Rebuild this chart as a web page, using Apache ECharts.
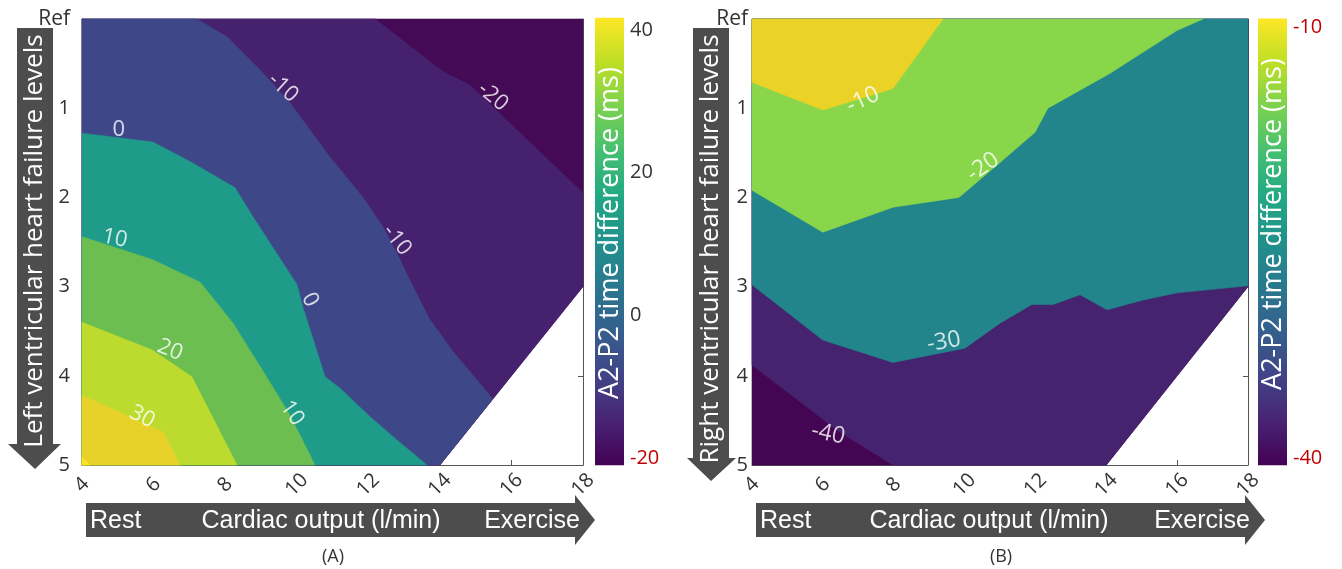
<!DOCTYPE html>
<html>
<head>
<meta charset="utf-8">
<script src="https://cdn.jsdelivr.net/npm/echarts@6.0.0/dist/echarts.min.js"></script>
<style>
html, body { margin: 0; padding: 0; background: #fff; }
#chart { width: 1342px; height: 569px; }
</style>
</head>
<body>
<div id="chart"></div>
<script>
// axes
var cardiacOutput = [4, 6, 8, 10, 12, 14, 16, 18];
var failureLevels = ['Ref', '1', '2', '3', '4', '5'];
// simulated region, the lower right corner has no values
var domain = [[4, 0], [18, 0], [18, 3], [14, 5], [4, 5]];

// (A) left ventricular failure, contour lines as [cardiac output, level]
var lvLevels = [-20, -10, 0, 10, 20, 30, 40];
var lvLineM20 = [[12.19, 0], [14.09, 0.59], [14.84, 0.74], [18, 1.95]];
var lvLineM10 = [[7.21, 0], [8.05, 0.20], [8.97, 0.57], [9.81, 0.94], [10.93, 1.55], [11.85, 2.00], [12.41, 2.33],
  [12.89, 2.70], [13.16, 2.93], [13.72, 3.37], [14.37, 3.73], [15.48, 4.26]];
var lvLine0 = [[4, 1.28], [5.98, 1.38], [7.07, 1.61], [8.27, 1.89], [8.78, 2.22], [10.01, 2.98], [10.17, 3.23],
  [10.79, 4.01], [11.21, 4.14], [12.05, 4.46], [12.80, 4.72], [13.64, 5]];
var lvLine10 = [[4, 2.44], [5.98, 2.70], [7.30, 2.95], [8.22, 3.41], [9.03, 3.93], [9.81, 4.44], [10.51, 5]];
var lvLine20 = [[4, 3.40], [5.96, 3.71], [7.07, 4.01], [8.33, 5]];
var lvLine30 = [[4, 4.22], [6.26, 4.63], [6.74, 5]];
var lvLine40 = [[4, 4.91], [4.22, 5]];
// clabel positions [x, level, value]
var lvLabels = [[9.62, 0.77, -10], [5.03, 1.24, 0], [4.92, 2.46, 10], [15.48, 0.87, -20], [12.80, 2.48, -10],
  [10.37, 3.15, 0], [6.46, 3.71, 20], [5.68, 4.46, 30], [9.87, 4.42, 10]];
var lvColorRange = [-21, 41.7];
var lvColorTicks = [-20, 40];

// (B) right ventricular failure
var rvLevels = [-40, -30, -20, -10];
var rvLineM40 = [[7.98, 5], [6.40, 4.61], [5.55, 4.35], [4, 3.88]];
var rvLineM30 = [[18, 2.99], [16.0, 3.07], [15.04, 3.15], [14.02, 3.26], [13.26, 3.09], [12.50, 3.20], [11.90, 3.20],
  [11.0, 3.41], [10.01, 3.69], [7.98, 3.85], [6.0, 3.60], [4, 2.98]];
var rvLineM20 = [[16.73, 0], [15.99, 0.13], [14.10, 0.61], [12.35, 1.0], [11.99, 1.27], [11.0, 1.61], [9.84, 2.0],
  [7.98, 2.11], [6.0, 2.39], [4, 1.92]];
var rvLineM10 = [[9.39, 0], [7.98, 0.78], [6.0, 1.02], [4, 0.71]];
var rvLabels = [[7.13, 0.91, -10], [10.52, 1.66, -20], [9.42, 3.62, -30], [6.15, 4.65, -40]];
var rvColorRange = [-40.5, -9.4];
var rvColorTicks = [-40, -10];

// styles
var viridis = ['#440154', '#482475', '#414487', '#355f8d', '#2a788e', '#21918c', '#22a884', '#44bf70', '#7ad151', '#bddf26', '#fde725'];
var lvBandColors = ['#440a56', '#46216e', '#3e4888', '#1f9b8a', '#6cbe50', '#bddb2e', '#e8d22a', '#f8e621'];
var rvBandColors = ['#440552', '#46236e', '#22858c', '#8ad64a', '#ebd227'];
var lvLabelRot = [-42, 0, -12, -40, -52, -62, -22, -28, -55];
var rvLabelRot = [25, 35, 10, -12];
var FONT = 'Open Sans';

// position of a boundary point along the domain outline
function edgePos(p) {
  var best = 1e9, pos = 0;
  for (var i = 0; i < domain.length; i++) {
    var a = domain[i], b = domain[(i + 1) % domain.length];
    var dx = b[0] - a[0], dy = b[1] - a[1];
    var f = ((p[0] - a[0]) * dx + (p[1] - a[1]) * dy) / (dx * dx + dy * dy);
    f = Math.max(0, Math.min(1, f));
    var d = Math.hypot(a[0] + f * dx - p[0], a[1] + f * dy - p[1]);
    if (d < best) { best = d; pos = i + f; }
  }
  return pos;
}
// area above a contour level: the line closed along the domain outline
function regionAbove(line) {
  var n = domain.length;
  var t0 = edgePos(line[line.length - 1]), t1 = edgePos(line[0]);
  if (t1 <= t0) t1 += n;
  var pts = line.slice();
  for (var k = Math.floor(t0) + 1; k < t1; k++) pts.push(domain[k % n]);
  return pts;
}
function rings(lines) { return [domain].concat(lines.map(regionAbove)); }

var lvRings = rings([lvLineM20, lvLineM10, lvLine0, lvLine10, lvLine20, lvLine30, lvLine40]);
var rvRings = rings([rvLineM40, rvLineM30, rvLineM20, rvLineM10]);

function bandSeries(ax, polys, colors) {
  return {
    type: 'custom', xAxisIndex: ax, yAxisIndex: ax, silent: true, animation: false, z: 2,
    data: polys.map(function (p, i) { return [i, 0]; }),
    renderItem: function (params, api) {
      var i = api.value(0);
      return {
        type: 'polygon', z2: i,
        shape: { points: polys[i].map(function (q) { return api.coord(q); }) },
        style: { fill: colors[i], stroke: colors[i], lineWidth: 0.6 }
      };
    }
  };
}

function labelSeries(ax, labels, rot, size) {
  return {
    type: 'scatter', xAxisIndex: ax, yAxisIndex: ax, silent: true, animation: false, z: 5,
    symbolSize: 1, itemStyle: { color: 'rgba(0,0,0,0)' },
    data: labels.map(function (l, i) {
      return { value: [l[0], l[1]], name: String(l[2]), label: { rotate: rot[i] } };
    }),
    label: { show: true, position: 'inside', formatter: '{b}', color: '#fff', fontSize: size, fontFamily: FONT }
  };
}

function colorbarSeries(ax, range) {
  return {
    type: 'custom', xAxisIndex: ax, yAxisIndex: ax, silent: true, animation: false, clip: false,
    data: [[0, range[0]]],
    renderItem: function (params, api) {
      var a = api.coord([0, range[0]]), b = api.coord([1, range[1]]);
      return {
        type: 'rect',
        shape: { x: a[0], y: b[1], width: b[0] - a[0], height: a[1] - b[1] },
        style: {
          fill: {
            type: 'linear', x: 0, y: 1, x2: 0, y2: 0,
            colorStops: viridis.map(function (c, i) { return { offset: i / (viridis.length - 1), color: c }; })
          }
        }
      };
    }
  };
}

var lineStyle = { color: '#555', width: 1 };
function plotX(grid, pos) {
  return {
    gridIndex: grid, type: 'value', position: pos, min: cardiacOutput[0], max: cardiacOutput[cardiacOutput.length - 1], interval: 2,
    axisLine: { show: true, onZero: false, lineStyle: lineStyle },
    axisTick: { show: true, inside: true, length: 5, lineStyle: lineStyle },
    splitLine: { show: false },
    axisLabel: pos === 'bottom'
      ? { show: true, rotate: 45, align: 'center', verticalAlign: 'middle', margin: 20, fontSize: 20, color: '#333', fontFamily: FONT, showMinLabel: true, showMaxLabel: true }
      : { show: false }
  };
}
function plotY(grid, pos, margin) {
  return {
    gridIndex: grid, type: 'value', position: pos, inverse: true, min: 0, max: failureLevels.length - 1, interval: 1,
    axisLine: { show: true, onZero: false, lineStyle: lineStyle },
    axisTick: { show: true, inside: true, length: 5, lineStyle: lineStyle },
    splitLine: { show: false },
    axisLabel: pos === 'left'
      ? { show: true, margin: margin, fontSize: 20, color: '#333', fontFamily: FONT,
          formatter: function (v) { return v === 0 ? '{s|Ref}' : failureLevels[v]; },
          rich: { s: { fontSize: 21, color: '#333', fontFamily: FONT } } }
      : { show: false }
  };
}
function barX(grid) { return { gridIndex: grid, type: 'value', min: 0, max: 1, show: false }; }
function barY(grid, ticks) {
  return {
    gridIndex: grid, type: 'value', position: 'right', min: ticks[0], max: ticks[1],
    interval: ticks === lvColorTicks ? 20 : 30,
    axisLine: { show: false }, axisTick: { show: false }, splitLine: { show: false },
    axisLabel: {
      show: true, margin: 6, fontSize: 20, color: '#333', fontFamily: FONT,
      formatter: function (v) { return v === ticks[0] || (ticks === rvColorTicks && v === ticks[1]) ? '{r|' + v + '}' : String(v); },
      rich: { r: { color: '#c00000', fontSize: 20, fontFamily: FONT } }
    }
  };
}

var ARROW = '#4d4d4d';
function vArrow(x0, x1, top, base, hx0, hx1, tipY, text, ty) {
  var cx = (x0 + x1) / 2;
  return [
    { type: 'polygon', shape: { points: [[x0, top], [x1, top], [x1, base], [hx1, base], [cx, tipY], [hx0, base], [x0, base]] }, style: { fill: ARROW } },
    { type: 'text', x: cx, y: ty, rotation: Math.PI / 2,
      style: { text: text, fill: '#fff', font: '26px "Open Sans"', align: 'center', verticalAlign: 'middle' } }
  ];
}
function hArrow(x0, x1, tipX, cx, rightX) {
  return [
    { type: 'polygon', shape: { points: [[x0, 503], [x1, 503], [x1, 495], [tipX, 520], [x1, 545], [x1, 537], [x0, 537]] }, style: { fill: ARROW } },
    { type: 'text', x: x0 + 4, y: 521, style: { text: 'Rest', fill: '#fff', font: '25px "Liberation Sans"', align: 'left', verticalAlign: 'middle' } },
    { type: 'text', x: cx, y: 521, style: { text: 'Cardiac output (l/min)', fill: '#fff', font: '25px "Liberation Sans"', align: 'center', verticalAlign: 'middle' } },
    { type: 'text', x: rightX, y: 521, style: { text: 'Exercise', fill: '#fff', font: '25px "Liberation Sans"', align: 'right', verticalAlign: 'middle' } }
  ];
}
function barTitle(x, y) {
  return { type: 'text', x: x, y: y, rotation: Math.PI / 2, z: 10,
    style: { text: 'A2-P2 time difference (ms)', fill: '#fff', font: '27px "Open Sans"', align: 'center', verticalAlign: 'middle' } };
}
function caption(x, t) {
  return { type: 'text', x: x, y: 557, style: { text: t, fill: '#333', font: '18px "Open Sans"', align: 'center', verticalAlign: 'middle' } };
}

var chart = echarts.init(document.getElementById('chart'));
chart.setOption({
  animation: false,
  textStyle: { fontFamily: FONT },
  grid: [
    { left: 82, top: 19, width: 501, height: 446, outerBoundsMode: 'none' },
    { left: 595, top: 30, width: 29, height: 428, outerBoundsMode: 'none' },
    { left: 752, top: 19, width: 496, height: 446, outerBoundsMode: 'none' },
    { left: 1258, top: 27, width: 29, height: 431, outerBoundsMode: 'none' }
  ],
  xAxis: [plotX(0, 'bottom'), plotX(0, 'top'), barX(1), plotX(2, 'bottom'), plotX(2, 'top'), barX(3)],
  yAxis: [plotY(0, 'left', 12), plotY(0, 'right'), barY(1, lvColorTicks), plotY(2, 'left', 4), plotY(2, 'right'), barY(3, rvColorTicks)],
  series: [
    bandSeries(0, lvRings, lvBandColors),
    labelSeries(0, lvLabels, lvLabelRot, 22),
    colorbarSeries(2, lvColorRange),
    bandSeries(3, rvRings, rvBandColors),
    labelSeries(3, rvLabels, rvLabelRot, 23),
    colorbarSeries(5, rvColorRange)
  ],
  graphic: [].concat(
    vArrow(17, 53, 28, 444, 8, 61, 469, 'Left ventricular heart failure levels', 241),
    vArrow(693, 729, 28, 458, 687, 736, 481, 'Right ventricular heart failure levels', 249),
    hArrow(86, 575, 595, 321, 580),
    hArrow(756, 1245, 1265, 989, 1250),
    [barTitle(610, 233), barTitle(1273, 224), caption(333, '(A)'), caption(1001, '(B)')]
  )
});
</script>
</body>
</html>
